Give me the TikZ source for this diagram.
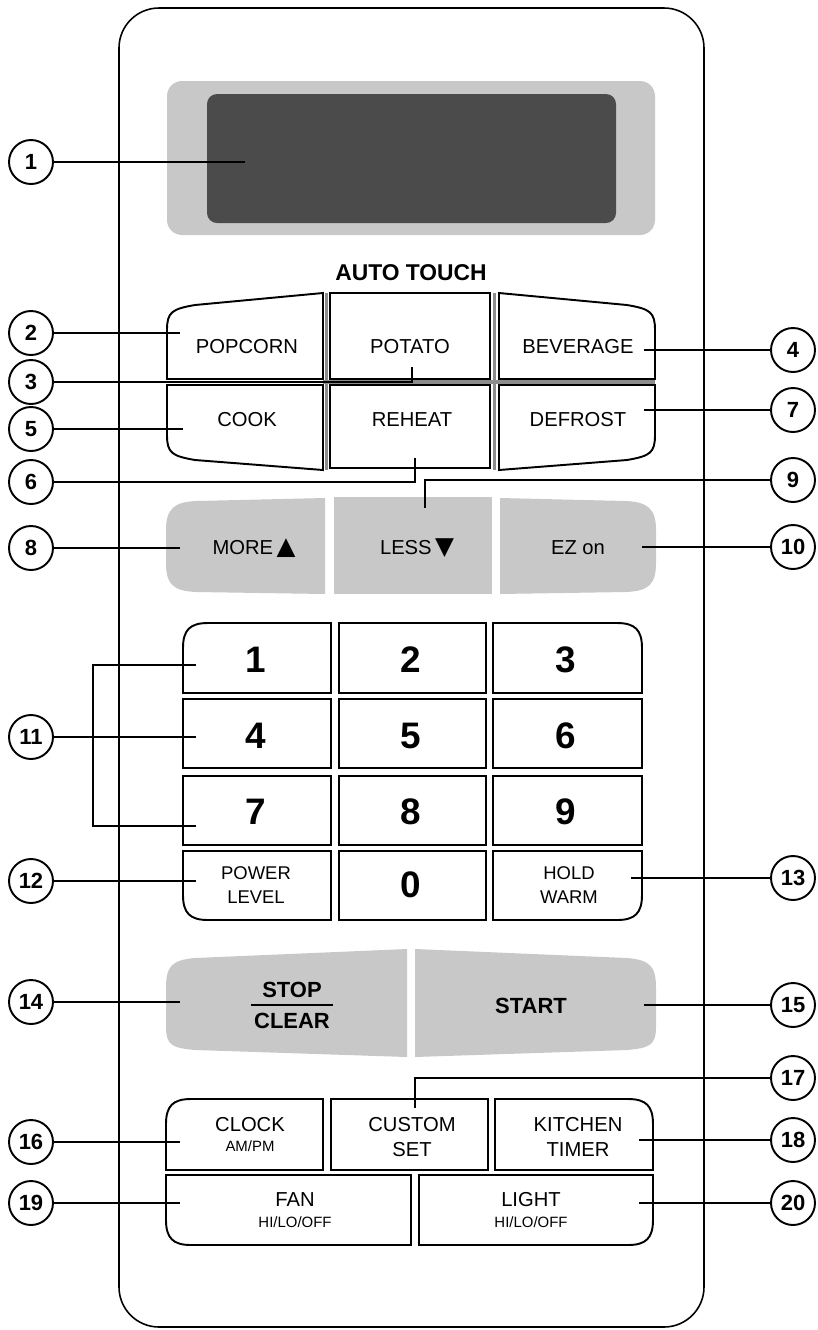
\documentclass[tikz,border=0pt]{standalone}
\usepackage{fontspec}
\setmainfont{Liberation Sans}
\newfontfamily\symfont{DejaVu Sans}
\usepackage{tikz}
\usetikzlibrary{calc}
\definecolor{padgray}{HTML}{C8C8C8}
\definecolor{lcdgray}{HTML}{4B4B4B}

\tikzset{
  callout/.style={circle, draw, line width=1.1pt, minimum size=0.88cm, inner sep=0pt,
    font=\bfseries\fontsize{12.5}{12.5}\selectfont},
  lead/.style={line width=1.2pt},
  btn/.style={draw, line width=1.1pt},
  shade/.style={draw=black!45, line width=2pt},
  lbl/.style={inner sep=0pt, font=\fontsize{11.5}{14}\selectfont, align=center},
  small/.style={inner sep=0pt, font=\fontsize{8.5}{10}\selectfont},
  dgt/.style={inner sep=0pt, font=\bfseries\fontsize{21}{21}\selectfont},
  bold/.style={inner sep=0pt, font=\bfseries\fontsize{12.5}{14}\selectfont}
}

\begin{document}
\begin{tikzpicture}[x=0.02cm, y=-0.02cm]
\useasboundingbox (0,0) rectangle (818,1330);

% panel and display
\draw[line width=0.9pt, rounded corners=0.8cm] (119,8) rectangle (704,1327);
\fill[padgray, rounded corners=0.3cm] (167,81) rectangle (655,235);
\fill[lcdgray, rounded corners=0.2cm] (207,94) rectangle (616,223);
\coordinate (lcd) at (245,162);

% auto touch pads
\node[bold, font=\bfseries\fontsize{13}{13}\selectfont] (autotouch) at (411,273) {AUTO TOUCH};
\draw[shade] (326.5,293) -- (326.5,470);
\draw[shade] (494.5,293) -- (494.5,470);
\draw[shade] (323,382) -- (655,382);
\draw[btn] (323,379) -- (167,379) -- (167,330) .. controls (167,312) and (172,309) .. (195,305) -- (323,293) -- cycle;
\draw[btn] (330,293) rectangle (490,379);
\draw[btn] (499,379) -- (655,379) -- (655,330) .. controls (655,312) and (650,309) .. (627,305) -- (499,293) -- cycle;
\draw[btn] (323,385) -- (167,385) -- (167,435) .. controls (167,453) and (172,456) .. (195,460) -- (323,470) -- cycle;
\draw[btn] (330,385) rectangle (490,468);
\draw[btn] (499,385) -- (655,385) -- (655,435) .. controls (655,453) and (650,456) .. (627,460) -- (499,470) -- cycle;
\foreach \nm/\x/\y/\txt in {popcorn/247/347/POPCORN, potato/410/347/POTATO, beverage/578/347/BEVERAGE,
  cook/247/420/COOK, reheat/412/420/REHEAT, defrost/578/420/DEFROST}{
  \node[lbl] (\nm) at (\x,\y) {\txt};
}

% more / less / ez
\fill[padgray] (325,498) -- (196,501) .. controls (174,502) and (166,509) .. (166,530) -- (166,563)
  .. controls (166,585) and (174,591) .. (196,592) -- (325,594) -- cycle;
\fill[padgray] (334,497) rectangle (492,594);
\fill[padgray] (500,498) -- (626,501) .. controls (648,502) and (656,509) .. (656,530) -- (656,563)
  .. controls (656,585) and (648,591) .. (626,592) -- (500,594) -- cycle;
\node[lbl] (more) at (254,548) {MORE\,{\symfont\fontsize{14}{14}\selectfont ▲}};
\node[lbl] (less) at (417,548) {LESS\,{\symfont\fontsize{14}{14}\selectfont ▼}};
\node[lbl] (ezon) at (578,548) {EZ on};

% number pad
\draw[btn] (331,623) -- (208,623) .. controls (190,623) and (183,630) .. (183,648) -- (183,693) -- (331,693) -- cycle;
\draw[btn] (493,623) -- (617,623) .. controls (635,623) and (642,630) .. (642,648) -- (642,693) -- (493,693) -- cycle;
\draw[btn] (331,851) -- (183,851) -- (183,895) .. controls (183,913) and (190,920) .. (208,920) -- (331,920) -- cycle;
\draw[btn] (493,851) -- (642,851) -- (642,895) .. controls (642,913) and (635,920) .. (617,920) -- (493,920) -- cycle;
\foreach \ya/\yb in {623/693, 699/768, 776/845, 851/920}{
  \draw[btn] (339,\ya) rectangle (486,\yb);
}
\foreach \ya/\yb in {699/768, 776/845}{
  \draw[btn] (183,\ya) rectangle (331,\yb);
  \draw[btn] (493,\ya) rectangle (642,\yb);
}
\foreach \d/\x/\y in {1/256/660, 2/411/660, 3/566/660, 4/256/736, 5/411/736, 6/566/736,
  7/256/812, 8/411/812, 9/566/812, 0/411/885}{
  \node[dgt] (k\d) at (\x,\y) {\d};
}
\node[lbl, font=\fontsize{10.5}{13.6}\selectfont] (power) at (256,885) {POWER\\LEVEL};
\node[lbl, font=\fontsize{10.5}{13.6}\selectfont] (hold) at (569,885) {HOLD\\WARM};

% stop / start
\fill[padgray] (407,949) -- (195,958) .. controls (172,960) and (166,966) .. (166,988) -- (166,1027)
  .. controls (166,1045) and (172,1048) .. (195,1050) -- (407,1057) -- cycle;
\fill[padgray] (415,949) -- (627,958) .. controls (650,960) and (656,966) .. (656,988) -- (656,1027)
  .. controls (656,1045) and (650,1048) .. (627,1050) -- (415,1057) -- cycle;
\node[bold] (stop) at (292,990) {STOP};
\node[bold] (clear) at (292,1021) {CLEAR};
\draw[line width=1.2pt] ($(clear.north west)+(-3,-8)$) -- ($(clear.north east)+(3,-8)$);
\node[bold] (start) at (531,1006) {START};

% bottom pads
\draw[btn] (323,1099) -- (191,1099) .. controls (173,1099) and (166,1106) .. (166,1124) -- (166,1170) -- (323,1170) -- cycle;
\draw[btn] (331,1099) rectangle (488,1170);
\draw[btn] (495,1099) -- (628,1099) .. controls (646,1099) and (653,1106) .. (653,1124) -- (653,1170) -- (495,1170) -- cycle;
\draw[btn] (411,1175) -- (166,1175) -- (166,1220) .. controls (166,1238) and (173,1245) .. (191,1245) -- (411,1245) -- cycle;
\draw[btn] (419,1175) -- (653,1175) -- (653,1220) .. controls (653,1238) and (646,1245) .. (628,1245) -- (419,1245) -- cycle;
\node[lbl] (clock) at (250,1125) {CLOCK};
\node[small] (ampm) at (250,1146) {AM/PM};
\node[lbl, font=\fontsize{11.5}{14.2}\selectfont] (custom) at (412,1137) {CUSTOM\\SET};
\node[lbl, font=\fontsize{11.5}{14.2}\selectfont] (kitchen) at (578,1137) {KITCHEN\\TIMER};
\node[lbl] (fan) at (295,1200) {FAN};
\node[small] (fanhi) at (295,1222) {HI/LO/OFF};
\node[lbl] (light) at (531,1200) {LIGHT};
\node[small] (lighthi) at (531,1222) {HI/LO/OFF};

% callouts, straight leaders
\foreach \n/\x/\y/\ex in {1/31/162/245, 2/31/333/180, 4/793/350/644, 5/31/429/183, 7/793/410/644,
  8/31/548/180, 10/793/547/642, 11/31/737/196, 12/31/881/196, 13/793/878/631, 14/31/1002/180,
  15/793/1005/644, 16/31/1142/180, 18/793/1140/639, 19/31/1203/180, 20/793/1203/639}{
  \node[callout] (c\n) at (\x,\y) {\n};
  \coordinate (e\n) at (\ex,\y);
  \draw[lead] (c\n) -- (e\n);
}
% callouts with a bend
\foreach \n/\x/\y/\ex/\ey in {3/31/382/412/367, 6/31/482/415/458, 9/793/480/425/508, 17/793/1078/415/1108}{
  \node[callout] (c\n) at (\x,\y) {\n};
  \coordinate (e\n) at (\ex,\ey);
  \draw[lead] (c\n) -| (e\n);
}
% bracket for 1/4/7
\coordinate (b1) at (196,665);
\coordinate (b7) at (196,826);
\draw[lead] (b1) -- (93,665) -- (93,826) -- (b7);
\end{tikzpicture}
\end{document}
